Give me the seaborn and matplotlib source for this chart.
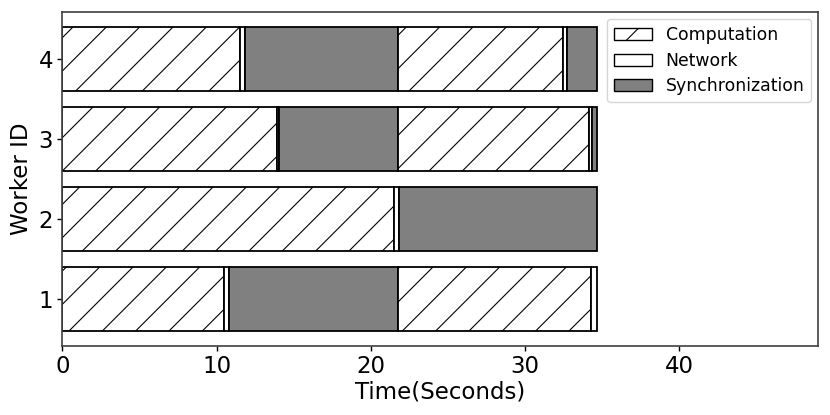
import numpy as np
import pandas as pd
import matplotlib
matplotlib.use("Agg")
import matplotlib.pyplot as plt
import seaborn as sns
from matplotlib.patches import Patch

# data: each worker's phases in time order (seconds)
workers = [1, 2, 3, 4]
w1_phases = ["Computation", "Network", "Synchronization", "Computation", "Network"]
w1_times = [10.46, 0.33, 11.00, 12.46, 0.39]
w2_phases = ["Computation", "Network", "Synchronization"]
w2_times = [21.48, 0.33, 12.83]
w3_phases = ["Computation", "Network", "Synchronization", "Computation", "Network", "Synchronization"]
w3_times = [13.90, 0.14, 7.75, 12.34, 0.19, 0.32]
w4_phases = ["Computation", "Network", "Synchronization", "Computation", "Network", "Synchronization"]
w4_times = [11.55, 0.28, 9.96, 10.67, 0.28, 1.90]

legend_order = ["Computation", "Network", "Synchronization"]

# build a long table with start offsets
rows = []
for wid, phases, times in zip(workers,
                              [w1_phases, w2_phases, w3_phases, w4_phases],
                              [w1_times, w2_times, w3_times, w4_times]):
    starts = np.concatenate([[0], np.cumsum(times)[:-1]])
    for ph, t, s in zip(phases, times, starts):
        rows.append({"worker": wid, "phase": ph, "duration": t, "start": s})
df = pd.DataFrame(rows)

sns.set_style("ticks")
plt.rcParams["font.family"] = ["DejaVu Sans"]
plt.rcParams["hatch.linewidth"] = 0.8
plt.rcParams["text.color"] = "black"
plt.rcParams["axes.labelcolor"] = "black"
plt.rcParams["xtick.color"] = "black"
plt.rcParams["ytick.color"] = "black"

styles = {
    "Computation": dict(facecolor="white", hatch="/"),
    "Network": dict(facecolor="white", hatch=""),
    "Synchronization": dict(facecolor="#808080", hatch=""),
}

fig = plt.figure(figsize=(8.3, 4.15), dpi=100)
ax = fig.add_axes([0.075, 0.166, 0.911, 0.805])

for _, r in df.iterrows():
    st = styles[r["phase"]]
    ax.barh(r["worker"], r["duration"], left=r["start"], height=0.8,
            color=st["facecolor"], hatch=st["hatch"],
            edgecolor="black", linewidth=1.3)

ax.set_xlim(0, 49)
ax.set_yticks(workers)
ax.set_yticklabels([str(w) for w in workers])
ax.set_xticks([0, 10, 20, 30, 40])
ax.tick_params(axis="both", labelsize=16.5, length=3.5, width=1, pad=3)
ax.set_xlabel("Time(Seconds)", fontsize=16.5, labelpad=2)
ax.set_ylabel("Worker ID", fontsize=16.5, labelpad=4)
for sp in ax.spines.values():
    sp.set_linewidth(1.2)
    sp.set_color("0.25")

handles = [Patch(facecolor=styles[p]["facecolor"], hatch=styles[p]["hatch"],
                 edgecolor="black", linewidth=1.0, label=p) for p in legend_order]
ax.legend(handles=handles, loc="upper right", fontsize=12.4, frameon=True,
          borderaxespad=0.4, handlelength=2.2, labelspacing=0.45)

fig.savefig("out.png", dpi=100)
